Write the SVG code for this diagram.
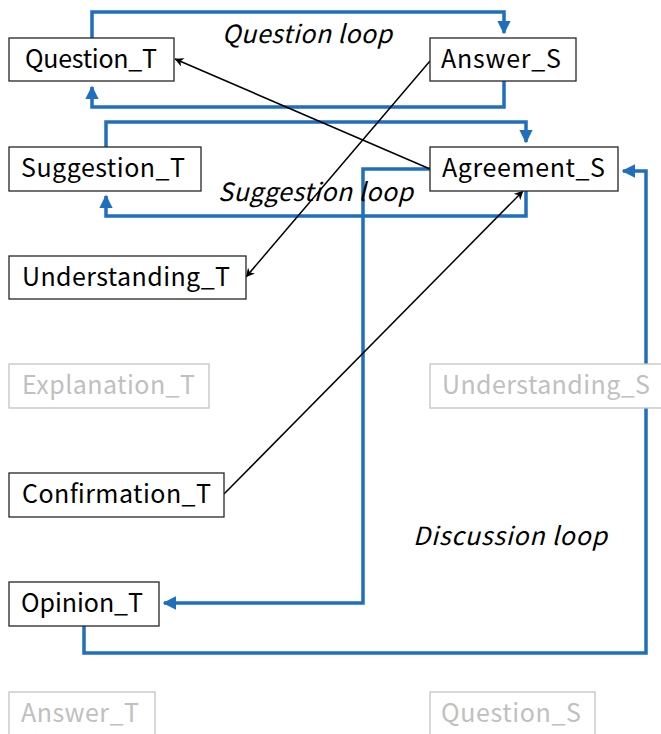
<svg xmlns="http://www.w3.org/2000/svg" width="661" height="734" viewBox="0 0 661 734">
  <style>
    .box { fill: #ffffff; stroke: #262626; stroke-width: 1.3; }
    .box.dim { stroke: #c4c4c4; }
    .lbl { font-family: "Noto Sans CJK JP", "Noto Sans", "Liberation Sans", sans-serif; font-size: 25px; font-weight: 400; fill: #000000; text-anchor: start; }
    .dim .lbl { fill: #c0c0c0; }
    .loopname { font-family: "Noto Sans CJK JP", "Noto Sans", "Liberation Sans", sans-serif; font-size: 25px; font-weight: 400; font-style: italic; fill: #000000; }
    .loop { fill: none; stroke: #1f6fbe; stroke-width: 3.5; stroke-linejoin: miter; }
    .rel { fill: none; stroke: #000000; stroke-width: 1.5; }
  </style>
  <defs>
    <marker id="blueHead" viewBox="0 0 10 10" refX="9" refY="5" markerWidth="3.8" markerHeight="3.8" markerUnits="strokeWidth" orient="auto">
      <path d="M0,0 L10,5 L0,10 z" fill="#1f6fbe"/>
    </marker>
    <marker id="blackHead" viewBox="0 0 10 10" refX="9.5" refY="5" markerWidth="9" markerHeight="9" markerUnits="userSpaceOnUse" orient="auto">
      <path d="M0,0 L10,5 L0,10 L3,5 z" fill="#000000"/>
    </marker>
  </defs>

  <rect width="661" height="734" fill="#ffffff"/>

  <!-- connectors -->
  <g id="connectors">
    <!-- question loop -->
    <path class="loop" d="M92,38 V12 H504 V33" marker-end="url(#blueHead)"/>
    <path class="loop" d="M504,81 V107 H92 V87" marker-end="url(#blueHead)"/>
    <!-- suggestion loop -->
    <path class="loop" d="M106,147 V122 H526 V142" marker-end="url(#blueHead)"/>
    <path class="loop" d="M526,191 V216 H106 V196" marker-end="url(#blueHead)"/>
    <!-- discussion loop -->
    <path class="loop" d="M430,169 H363 V603 H164" marker-end="url(#blueHead)"/>
    <path class="loop" d="M84,626 V653 H646 V171 H623" marker-end="url(#blueHead)"/>
    <!-- single relations -->
    <line class="rel" x1="430" y1="169" x2="175" y2="59" marker-end="url(#blackHead)"/>
    <line class="rel" x1="430" y1="61" x2="246" y2="277" marker-end="url(#blackHead)"/>
    <line class="rel" x1="224" y1="494" x2="523" y2="191" marker-end="url(#blackHead)"/>
  </g>

  <!-- loop names -->
  <g id="loop-labels">
    <text class="loopname" x="222" y="43" textLength="170">Question loop</text>
    <text class="loopname" x="218" y="201" textLength="195">Suggestion loop</text>
    <text class="loopname" x="413" y="545" textLength="194">Discussion loop</text>
  </g>

  <!-- teacher side -->
  <g id="question_t">
    <rect class="box" x="9" y="38" width="165" height="43"/>
    <text class="lbl" x="25" y="68" textLength="132">Question_T</text>
  </g>
  <g id="suggestion_t">
    <rect class="box" x="9" y="147" width="192" height="44"/>
    <text class="lbl" x="21" y="177" textLength="164">Suggestion_T</text>
  </g>
  <g id="understanding_t">
    <rect class="box" x="9" y="256" width="237" height="43"/>
    <text class="lbl" x="22" y="286" textLength="208">Understanding_T</text>
  </g>
  <g id="explanation_t" class="dim">
    <rect class="box dim" x="9" y="364" width="200" height="44"/>
    <text class="lbl" x="22" y="394" textLength="173">Explanation_T</text>
  </g>
  <g id="confirmation_t">
    <rect class="box" x="9" y="473" width="215" height="44"/>
    <text class="lbl" x="22" y="503" textLength="189">Confirmation_T</text>
  </g>
  <g id="opinion_t">
    <rect class="box" x="9" y="582" width="150" height="44"/>
    <text class="lbl" x="21" y="612" textLength="122">Opinion_T</text>
  </g>
  <g id="answer_t" class="dim">
    <rect class="box dim" x="9" y="692" width="146" height="44"/>
    <text class="lbl" x="21" y="722" textLength="118">Answer_T</text>
  </g>

  <!-- student side -->
  <g id="answer_s">
    <rect class="box" x="430" y="38" width="146" height="43"/>
    <text class="lbl" x="441" y="68" textLength="120">Answer_S</text>
  </g>
  <g id="agreement_s">
    <rect class="box" x="430" y="147" width="188" height="44"/>
    <text class="lbl" x="442" y="177" textLength="163">Agreement_S</text>
  </g>
  <g id="understanding_s" class="dim">
    <rect class="box dim" x="430" y="364" width="237" height="44"/>
    <text class="lbl" x="442" y="394" textLength="208">Understanding_S</text>
  </g>
  <g id="question_s" class="dim">
    <rect class="box dim" x="430" y="692" width="165" height="44"/>
    <text class="lbl" x="441" y="722" textLength="140">Question_S</text>
  </g>
</svg>
